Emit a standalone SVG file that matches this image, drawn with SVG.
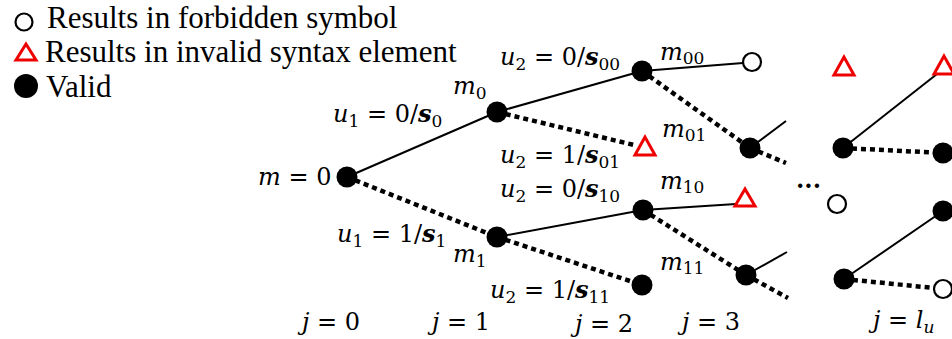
<svg xmlns="http://www.w3.org/2000/svg" width="952" height="339" viewBox="0 0 952 339">
<defs>
<style>
.leg{font-family:'Liberation Serif','Times New Roman',serif;font-size:31px;fill:#000}
.mt{font-family:'DejaVu Serif','Liberation Serif',serif;font-size:24px;fill:#000}
.it{font-style:italic}
.bi{font-style:italic;font-weight:bold}
.sub{font-size:17px}
.valid{fill:#000}
.forb{fill:#fff;stroke:#000;stroke-width:2.2}
.inv{fill:none;stroke:#e00;stroke-width:3}
.solid{stroke:#000;stroke-width:2;fill:none}
.dot{stroke:#000;stroke-width:4.5;stroke-dasharray:5 4;fill:none}
</style>
</defs>
<rect width="952" height="339" fill="#fff"/>

<g id="legend">
<circle class="forb" cx="24" cy="22" r="8.5"/>
<text class="leg" x="47" y="28">Results in forbidden symbol</text>
<polygon class="inv" points="26,44 16,60 36,60"/>
<text class="leg" x="45" y="62">Results in invalid syntax element</text>
<circle class="valid" cx="26" cy="86" r="12"/>
<text class="leg" x="46" y="97">Valid</text>
</g>

<g id="connectors">
<line class="solid" x1="347" y1="177" x2="497" y2="112"/>
<line class="dot" x1="347" y1="177" x2="497" y2="237"/>
<line class="solid" x1="497" y1="112" x2="642" y2="71"/>
<line class="dot" x1="497" y1="112" x2="634" y2="145"/>
<line class="solid" x1="497" y1="237" x2="643" y2="210"/>
<line class="dot" x1="497" y1="237" x2="642" y2="285"/>
<line class="solid" x1="642" y1="71" x2="743" y2="63"/>
<line class="dot" x1="642" y1="71" x2="750" y2="148"/>
<line class="solid" x1="643" y1="210" x2="736" y2="204"/>
<line class="dot" x1="643" y1="210" x2="746" y2="275"/>
<line class="solid" x1="750" y1="148" x2="786" y2="121"/>
<line class="dot" x1="750" y1="148" x2="786" y2="163"/>
<line class="solid" x1="746" y1="275" x2="787" y2="252"/>
<line class="dot" x1="746" y1="275" x2="788" y2="298"/>
<line class="solid" x1="843" y1="148" x2="937" y2="74"/>
<line class="dot" x1="843" y1="148" x2="943" y2="153"/>
<line class="solid" x1="844" y1="279" x2="943" y2="211"/>
<line class="dot" x1="844" y1="279" x2="934" y2="288"/>
</g>

<g id="root"><circle class="valid" cx="347" cy="177" r="10.5"/>
<text class="mt" x="258" y="185"><tspan class="it">m</tspan> = 0</text></g>
<g id="m0"><circle class="valid" cx="497" cy="112" r="10.5"/>
<text class="mt" x="453" y="94"><tspan class="it">m</tspan><tspan class="sub" dy="5">0</tspan></text></g>
<g id="m1"><circle class="valid" cx="497" cy="237" r="10.5"/>
<text class="mt" x="453" y="262"><tspan class="it">m</tspan><tspan class="sub" dy="5">1</tspan></text></g>
<g id="n00"><circle class="valid" cx="642" cy="71" r="10.5"/></g>
<g id="n01"><polygon class="inv" points="645,137 635,155 655,155"/></g>
<g id="n10"><circle class="valid" cx="643" cy="210" r="10.5"/></g>
<g id="n11"><circle class="valid" cx="642" cy="285" r="10.5"/></g>
<g id="m00"><circle class="forb" cx="752" cy="62" r="9"/>
<text class="mt" x="660" y="60"><tspan class="it">m</tspan><tspan class="sub" dy="4">00</tspan></text></g>
<g id="m01"><circle class="valid" cx="750" cy="148" r="10.5"/>
<text class="mt" x="662" y="137"><tspan class="it">m</tspan><tspan class="sub" dy="4">01</tspan></text></g>
<g id="m10"><polygon class="inv" points="745,189 735,206 755,206"/>
<text class="mt" x="660" y="189"><tspan class="it">m</tspan><tspan class="sub" dy="4">10</tspan></text></g>
<g id="m11"><circle class="valid" cx="746" cy="275" r="10.5"/>
<text class="mt" x="660" y="270"><tspan class="it">m</tspan><tspan class="sub" dy="4">11</tspan></text></g>

<g id="ellipsis"><text class="mt" x="796" y="194" font-weight="bold">···</text></g>

<g id="lu_a"><polygon class="inv" points="844,57 834,75 854,75"/></g>
<g id="lu_b"><polygon class="inv" points="944,56 934,74 954,74"/></g>
<g id="lu_c"><circle class="valid" cx="843" cy="148" r="10.5"/></g>
<g id="lu_d"><circle class="valid" cx="943" cy="153" r="10.5"/></g>
<g id="lu_e"><circle class="forb" cx="837" cy="204" r="9"/></g>
<g id="lu_f"><circle class="valid" cx="943" cy="211" r="10.5"/></g>
<g id="lu_g"><circle class="valid" cx="844" cy="279" r="10.5"/></g>
<g id="lu_h"><circle class="forb" cx="943" cy="289" r="9"/></g>

<g id="edge-labels">
<text class="mt" x="333" y="122"><tspan class="it">u</tspan><tspan class="sub" dy="5">1</tspan><tspan dy="-5"> = 0/</tspan><tspan class="bi">s</tspan><tspan class="sub" dy="5">0</tspan></text>
<text class="mt" x="337" y="242"><tspan class="it">u</tspan><tspan class="sub" dy="5">1</tspan><tspan dy="-5"> = 1/</tspan><tspan class="bi">s</tspan><tspan class="sub" dy="5">1</tspan></text>
<text class="mt" x="500" y="65"><tspan class="it">u</tspan><tspan class="sub" dy="5">2</tspan><tspan dy="-5"> = 0/</tspan><tspan class="bi">s</tspan><tspan class="sub" dy="5">00</tspan></text>
<text class="mt" x="500" y="163"><tspan class="it">u</tspan><tspan class="sub" dy="5">2</tspan><tspan dy="-5"> = 1/</tspan><tspan class="bi">s</tspan><tspan class="sub" dy="5">01</tspan></text>
<text class="mt" x="500" y="197"><tspan class="it">u</tspan><tspan class="sub" dy="5">2</tspan><tspan dy="-5"> = 0/</tspan><tspan class="bi">s</tspan><tspan class="sub" dy="5">10</tspan></text>
<text class="mt" x="490" y="298"><tspan class="it">u</tspan><tspan class="sub" dy="5">2</tspan><tspan dy="-5"> = 1/</tspan><tspan class="bi">s</tspan><tspan class="sub" dy="5">11</tspan></text>
</g>

<g id="axis">
<text class="mt" x="302" y="330"><tspan class="it">j</tspan> = 0</text>
<text class="mt" x="432" y="330"><tspan class="it">j</tspan> = 1</text>
<text class="mt" x="575" y="332"><tspan class="it">j</tspan> = 2</text>
<text class="mt" x="682" y="330"><tspan class="it">j</tspan> = 3</text>
<text class="mt" x="873" y="328"><tspan class="it">j</tspan> = <tspan class="it">l</tspan><tspan class="sub it" dy="5">u</tspan></text>
</g>
</svg>
